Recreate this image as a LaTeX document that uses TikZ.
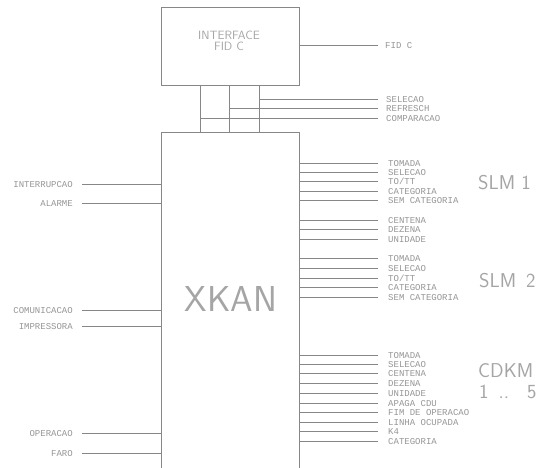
\documentclass[tikz,border=0pt]{standalone}
\usepackage{fontspec}
\newfontfamily\monofont{Liberation Mono}
\newcommand\thinfont{\sffamily\addfontfeatures{LetterSpace=20}}
\definecolor{linec}{RGB}{135,135,135}
\definecolor{textc}{RGB}{150,150,150}
\definecolor{bigc}{RGB}{165,165,165}
\begin{document}
\begin{tikzpicture}[x=1pt,y=-1pt,
  ln/.style={draw=linec, line width=0.6pt},
  boxst/.style={draw=linec, line width=0.6pt, inner sep=0pt},
  lab/.style={font=\monofont\fontsize{9}{9}\selectfont, text=textc, inner sep=0pt, text height=6pt, text depth=0pt},
  big/.style={font=\fontsize{20}{20}\selectfont\thinfont, text=bigc, inner sep=0pt},
  huge/.style={font=\fontsize{36}{36}\selectfont\thinfont, text=bigc, inner sep=0pt},
  mid/.style={font=\fontsize{12}{12}\selectfont\thinfont, text=bigc, inner sep=0pt, text height=8.5pt, text depth=0pt}]
\clip (0,0) rectangle (546,467);
\fill[white] (0,0) rectangle (546,467);

% boxes
\node[boxst, minimum width=138pt, minimum height=78pt] (iface) at (230,46) {};
\node[mid] (ifacetxt1) at (229,35) {INTERFACE};
\node[mid] (ifacetxt2) at (229,46) {FID C};
\node[boxst, minimum width=138pt, minimum height=360pt, anchor=north west] (xbox) at (161,132) {};
\node[huge] (xkan) at (231,299) {XKAN};

% vertical links between the boxes
\coordinate (v1) at (200,0);
\coordinate (v2) at (229,0);
\coordinate (v3) at (259,0);
\foreach \v in {v1,v2,v3}{
  \draw[ln] (\v |- iface.south) -- (\v |- xbox.north);
}

% outputs of the interface
\node[lab, anchor=west] (fid) at (385,45) {FID C};
\draw[ln] (iface.east |- fid.west) -- ([xshift=-7pt]fid.west);
\foreach \y/\t/\n/\v in {99/SELECAO/sel/v3, 108/REFRESCH/ref/v2, 118/COMPARACAO/cmp/v1}{
  \node[lab, anchor=west] (\n) at (386,\y) {\t};
  \draw[ln] (\v |- \n.west) -- ([xshift=-8pt]\n.west);
}

% right side signals
\foreach \y/\t/\n in {163/TOMADA/a1, 172/SELECAO/a2, 181/{TO/TT}/a3, 191/CATEGORIA/a4, 200/SEM CATEGORIA/a5,
  220/CENTENA/a6, 229/DEZENA/a7, 239/UNIDADE/a8,
  258/TOMADA/b1, 268/SELECAO/b2, 278/{TO/TT}/b3, 287/CATEGORIA/b4, 297/SEM CATEGORIA/b5,
  355/TOMADA/c1, 364/SELECAO/c2, 373/CENTENA/c3, 383/DEZENA/c4, 393/UNIDADE/c5,
  403/APAGA CDU/c6, 412/FIM DE OPERACAO/c7, 422/LINHA OCUPADA/c8, 431/K4/c9, 441/CATEGORIA/c10}{
  \node[lab, anchor=west] (\n) at (388,\y) {\t};
  \draw[ln] (xbox.east |- \n.west) -- ([xshift=-10pt]\n.west);
}

% left side signals
\foreach \y/\t/\n in {184/INTERRUPCAO/l1, 203/ALARME/l2, 310/COMUNICACAO/l3, 326/IMPRESSORA/l4,
  433/OPERACAO/l5, 453/FARO/l6}{
  \node[lab, anchor=east] (\n) at (73,\y) {\t};
  \draw[ln] ([xshift=9pt]\n.east) -- (xbox.west |- \n.east);
}

% module names
\node[big, anchor=west] (slm1) at (478,183) {SLM 1};
\node[big, anchor=west] (slm2) at (479,281) {SLM\hspace{0.5em}2};
\node[big, anchor=west] (cdkm) at (478,371) {CDKM};
\node[big, anchor=west] (cdkmn) at (479,392) {1\hspace{0.5em}..\hspace{0.9em}5};
\end{tikzpicture}
\end{document}
